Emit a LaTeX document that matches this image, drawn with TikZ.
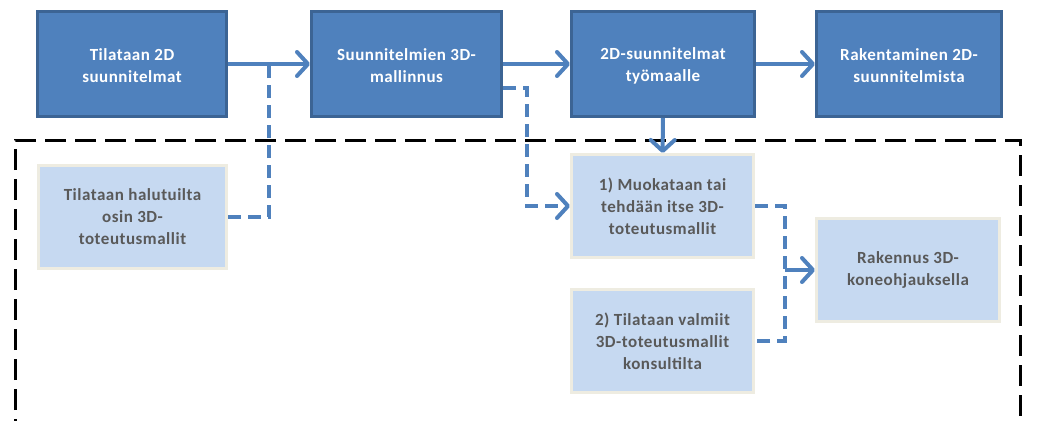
\documentclass[tikz,border=0pt]{standalone}
\usepackage{fontspec}
\setmainfont[LetterSpace=3]{Carlito}
\usetikzlibrary{
  positioning,
  arrows.meta,
  calc,
  }
\definecolor{phasefill}{HTML}{4F81BD}
\definecolor{phaseline}{HTML}{3C6494}
\definecolor{optfill}{HTML}{C6D9F1}
\definecolor{optline}{HTML}{EEECE1}
\definecolor{opttext}{HTML}{595959}

\tikzset{
  phasebox/.style={rectangle, draw=phaseline, fill=phasefill, line width=3pt, minimum height=105pt},
  phasetext/.style={text=white, font=\bfseries\fontsize{17}{22}\selectfont, align=center, yshift=-2pt},
  optbox/.style={rectangle, draw=optline, fill=optfill, line width=3pt, minimum height=103pt,
    text=opttext, font=\bfseries\fontsize{17}{22}\selectfont, align=center},
  flow/.style={draw=phasefill, line width=4pt, -{Straight Barb[length=11pt,width=24pt,round]}},
  dline/.style={draw=phasefill, line width=4pt, dash pattern=on 13pt off 7pt},
  dflow/.style={flow, dash pattern=on 13pt off 7pt},
}

\begin{document}
\begin{tikzpicture}[x=1pt, y=-1pt]
  \clip (0,0) rectangle (1043,420);
  \fill[white] (0,0) rectangle (1043,420);

  % dashed frame, open at the bottom
  \draw[line width=3pt, dash pattern=on 21pt off 9pt] (15,440) |- (1020,140) -- (1020,440);

  \node[phasebox, minimum width=189pt, label={[phasetext]center:{Tilataan 2D\\suunnitelmat}}] (n1) at (132,64) {};
  \node[phasebox, minimum width=190pt, label={[phasetext]center:{Suunnitelmien 3D-\\mallinnus}}] (n2) at (406.5,64) {};
  \node[phasebox, minimum width=183pt, label={[phasetext]center:{2D-suunnitelmat\\työmaalle}}] (n3) at (663,64) {};
  \node[phasebox, minimum width=185pt, label={[phasetext]center:{Rakentaminen 2D-\\suunnitelmista}}] (n4) at (909,64) {};

  \node[optbox, minimum width=188pt] (a) at (132.5,217) {Tilataan halutuilta\\osin 3D-\\toteutusmallit};
  \node[optbox, minimum width=182pt] (b) at (662.5,206) {1) Muokataan tai\\tehdään itse 3D-\\toteutusmallit};
  \node[optbox, minimum width=182pt] (c) at (662.5,341) {2) Tilataan valmiit\\3D-toteutusmallit\\konsultilta};
  \node[optbox, minimum width=183pt] (d) at (908,270) {Rakennus 3D-\\koneohjauksella};

  \coordinate (j1) at ($(n1.east)!0.5!(n2.west)$);
  \coordinate (j2) at ($(b.east)!0.5!(c.east)+(30,0)$);

  \draw[flow] (n1) -- (n2);
  \draw[flow] (n2) -- (n3);
  \draw[flow] (n3) -- (n4);
  \draw[flow] (n3) -- (b);

  \draw[dline] (a.east) -| (j1);
  \draw[dflow] ($(n2.east)+(0,24)$) -| ($(b.west)+(-43,0)$) -- (b.west);
  \draw[dline] (b.east) -- ++(30,0) |- (c.east);
  \draw[flow] (j2 |- d) -- (d);
\end{tikzpicture}
\end{document}
